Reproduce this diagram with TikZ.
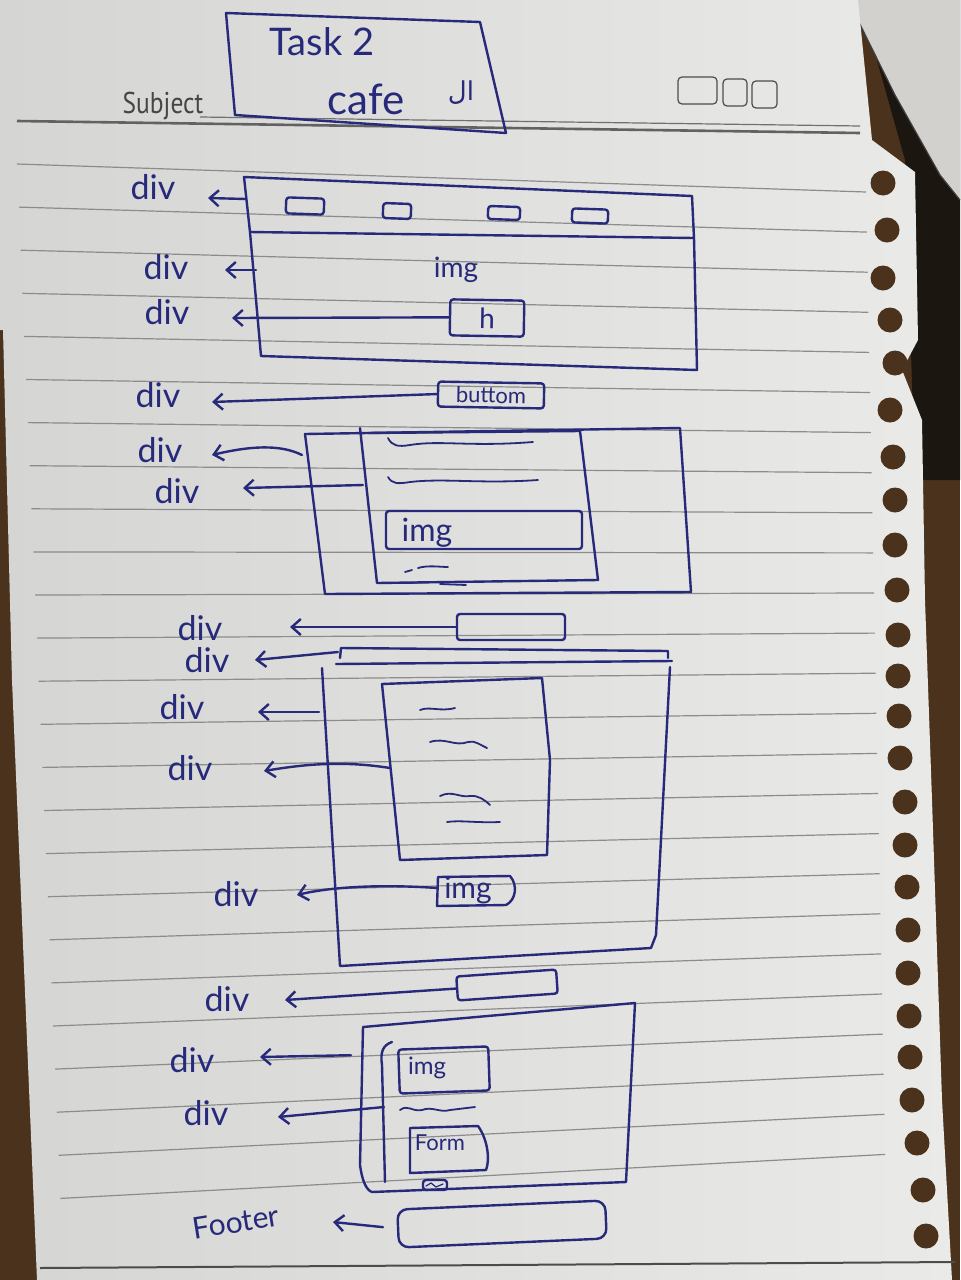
\documentclass[tikz,border=0pt]{standalone}
\usepackage{fontspec}
\setmainfont{Lato}
\newfontfamily\printfont{PT Sans}
\newfontfamily\arabicfont[Script=Arabic]{DejaVu Sans}
\TeXXeTstate=1
\usetikzlibrary{arrows.meta}

\definecolor{ink}{HTML}{27297A}
\definecolor{paperA}{HTML}{D5D5D3}
\definecolor{paperB}{HTML}{EAEAE8}
\definecolor{ruling}{HTML}{8C8C8C}
\definecolor{wood}{HTML}{4B321C}
\definecolor{gap}{HTML}{1C1611}
\definecolor{device}{HTML}{D3D1CD}

\tikzset{
  pen/.style={draw=ink, line width=1.2pt, line cap=round, line join=round},
  wave/.style={draw=ink, line width=0.9pt, line cap=round},
  arr/.style={pen, -{Straight Barb[length=4.5pt,width=8pt]}},
  hand/.style={text=ink, inner sep=0pt, font=\fontsize{17}{17}\selectfont},
  tag/.style={text=ink, inner sep=0pt},
  boxn/.style={pen, rectangle, rounded corners=1.5pt, inner sep=0pt},
  datebox/.style={draw=gray!60!black, line width=0.6pt, rounded corners=2pt},
}

\begin{document}
\begin{tikzpicture}[x=0.5pt, y=-0.5pt]
\useasboundingbox (0,0) rectangle (960,1280);

% table, shadow and the device in the corner
\fill[wood] (0,0) rectangle (960,1280);
\fill[gap] (860,0) -- (960,0) -- (960,480) -- (915,480) -- (905,160) -- cycle;
\fill[device] (848,0) -- (960,0) -- (960,200) -- (940,175) -- (895,95) -- cycle;
\draw[gray!50!black, line width=0.6pt] (848,0) -- (895,95) -- (940,175) -- (960,200);

% the notebook page
\shade[left color=paperA, right color=paperB]
  (0,0) -- (858,0) -- (872,140) -- (915,172) -- (918,340) -- (902,370)
  -- (922,420) -- (925,600) -- (932,800) -- (942,1100) -- (952,1280)
  -- (37,1280) -- (12,680) -- (3,330) -- (0,330) -- cycle;

% spiral holes
\foreach \y/\x in {183/883, 230/887, 278/883, 320/890, 363/895, 410/890,
  457/893, 500/895, 545/895, 590/897, 635/898, 676/898, 716/899, 758/900,
  802/905, 845/905, 887/907, 930/908, 973/908, 1016/909, 1057/910,
  1100/912, 1143/917, 1190/923, 1236/926}
  \fill[wood] (\x,\y) circle[radius=6.25pt];

% ruled lines
\foreach \k in {0,...,24} {
  \pgfmathsetmacro\yl{164+43.1*\k}
  \pgfmathsetmacro\yr{\yl+28-3*\k}
  \pgfmathsetmacro\xl{17+0.042*43.1*\k}
  \pgfmathsetmacro\xr{866+0.8*\k}
  \draw[ruling, line width=0.6pt] (\xl,\yl) -- (\xr,\yr);
}
\draw[gray!60!black, line width=1pt] (40,1268) -- (955,1262);

% header of the page
\draw[ruling!80!black, line width=0.6pt] (200,117) -- (860,126);
\draw[ruling!70!black, line width=1.3pt] (17,121) -- (860,133);
\node[text=gray!55!black, inner sep=0pt, font=\printfont\fontsize{15}{15}\selectfont]
  (subj) at (163,106) {\scalebox{0.85}[1]{Subject}};
\draw[datebox] (678,77) rectangle (717,104);
\draw[datebox] (723,79) rectangle (747,106);
\draw[datebox] (752,81) rectangle (777,108);

% title box
\draw[pen] (226,13) -- (480,22) -- (506,133) -- (235,115) -- cycle;
\node[tag, font=\fontsize{19}{19}\selectfont] (ttask) at (322,42) {Task 2};
\node[tag, font=\fontsize{21}{21}\selectfont] (tcafe) at (366,99) {cafe};
\node[tag, font=\arabicfont\fontsize{13}{13}\selectfont] (tal) at (461,93) {\beginR ال\endR};

% ---------- section 1: nav bar, hero, button ----------
\draw[pen] (244,177) -- (692,196) -- (694,238) -- (250,232) -- cycle;
\draw[pen] (250,232) -- (261,356) -- (697,370) -- (694,238);
\coordinate (navW) at (246,199);
\coordinate (heroW) at (256,270);

\node[boxn, minimum width=19pt, minimum height=8pt, rotate=-2] (nav1) at (305,206) {};
\node[boxn, minimum width=14pt, minimum height=7.5pt, rotate=-2] (nav2) at (397,211) {};
\node[boxn, minimum width=16pt, minimum height=6.5pt, rotate=-2] (nav3) at (504,213) {};
\node[boxn, minimum width=18pt, minimum height=7pt, rotate=-2] (nav4) at (590,216) {};

\node[tag, font=\fontsize{14}{14}\selectfont] (heroimg) at (456,270) {img};
\node[boxn, minimum width=37pt, minimum height=18pt, rotate=-1,
  font=\fontsize{14}{14}\selectfont, text=ink] (hbox) at (487,318) {h};
\node[boxn, minimum width=53pt, minimum height=12.5pt, rotate=-1,
  font=\fontsize{11}{11}\selectfont, text=ink] (btn) at (491,395) {buttom};

\node[hand] (l1) at (153,187) {div};
\node[hand] (l2) at (166,267) {div};
\node[hand] (l3) at (167,312) {div};
\node[hand] (l4) at (158,395) {div};
\coordinate (t1) at (208,198);
\coordinate (t2) at (225,270);
\coordinate (t3) at (232,318);
\coordinate (t4) at (212,402);
\draw[arr] (navW) -- (t1);
\draw[arr] (heroW) -- (t2);
\draw[arr] (hbox.west) -- (t3);
\draw[arr] (btn.west) -- (t4);

% ---------- section 2: card ----------
\draw[pen] (305,434) -- (680,428) -- (691,592) -- (325,594) -- cycle;
\draw[pen] (360,428) -- (377,583) -- (598,580) -- (580,431) -- (368,433);
\coordinate (out2W) at (302,455);
\coordinate (mid2W) at (363,485);
\draw[wave] (388,438) .. controls (392,446) and (398,447) .. (410,445)
  .. controls (440,440) and (470,447) .. (533,442);
\draw[wave] (388,477) .. controls (392,484) and (398,484) .. (410,482)
  .. controls (445,478) and (480,484) .. (538,480);
\node[boxn, minimum width=98pt, minimum height=19pt] (img2) at (484,530) {};
\node[tag, font=\fontsize{16}{16}\selectfont] (img2t) at (427,533) {img};
\draw[wave] (405,572) -- (412,570);
\draw[wave] (418,568) .. controls (428,565) and (440,567) .. (448,567);
\draw[wave] (410,583) -- (427,582);
\draw[wave] (440,584) -- (466,585);

\node[hand] (l5) at (160,450) {div};
\node[hand] (l6) at (177,491) {div};
\coordinate (t5) at (212,455);
\coordinate (t6) at (243,488);
\draw[arr] (out2W) .. controls (280,444) and (250,446) .. (t5);
\draw[arr] (mid2W) -- (t6);

% ---------- section 3: title bar, strip, text block ----------
\node[boxn, minimum width=54pt, minimum height=13pt] (box3) at (511,627) {};
\draw[pen] (340,658) -- (341,648) -- (668,651) -- (668,658);
\draw[pen] (336,664) -- (672,661);
\draw[pen] (322,668) -- (340,966) -- (651,948) -- (656,935) -- (670,667);
\coordinate (stripW) at (338,652);
\coordinate (big3W) at (319,712);

\draw[pen] (382,684) -- (542,678) -- (550,760) -- (547,855) -- (400,860) -- cycle;
\coordinate (inner3W) at (390,768);
\draw[wave] (420,710) .. controls (430,706) and (440,712) .. (455,708);
\draw[wave] (430,742) .. controls (445,737) and (455,747) .. (468,742)
  .. controls (475,740) and (480,745) .. (487,748);
\draw[wave] (440,796) .. controls (452,790) and (460,798) .. (470,796)
  .. controls (478,795) and (485,800) .. (490,805);
\draw[wave] (447,822) .. controls (460,820) and (475,823) .. (500,822);

\draw[pen] (438,877) -- (510,876) .. controls (518,885) and (516,900) .. (506,905)
  -- (437,906) -- cycle;
\node[tag, font=\fontsize{15}{15}\selectfont] (img3t) at (468,890) {img};
\coordinate (img3W) at (437,888);

\node[hand] (l7) at (200,628) {div};
\node[hand] (l8) at (207,660) {div};
\node[hand] (l9) at (182,707) {div};
\node[hand] (l10) at (190,768) {div};
\node[hand] (l11) at (236,894) {div};
\coordinate (t7) at (290,627);
\coordinate (t8) at (255,660);
\coordinate (t9) at (258,712);
\coordinate (t10) at (264,771);
\coordinate (t11) at (297,895);
\draw[arr] (box3.west) -- (t7);
\draw[arr] (stripW) -- (t8);
\draw[arr] (big3W) -- (t9);
\draw[arr] (inner3W) .. controls (340,760) and (300,765) .. (t10);
\draw[arr] (img3W) .. controls (380,884) and (330,887) .. (t11);

% ---------- section 4: contact block and footer ----------
\node[boxn, minimum width=50pt, minimum height=12pt, rotate=4] (box4) at (507,985) {};
\draw[pen] (363,1027) -- (360,1165) .. controls (362,1180) and (366,1190) .. (372,1192)
  -- (626,1182) -- (635,1003) -- cycle;
\coordinate (big4W) at (361,1055);
\draw[pen] (392,1042) .. controls (383,1045) and (380,1052) .. (382,1065) -- (385,1182);
\coordinate (braceW) at (384,1107);

\node[boxn, minimum width=45pt, minimum height=22pt, rotate=2] (img4) at (444,1070) {};
\node[tag, font=\fontsize{12}{12}\selectfont] (img4t) at (427,1068) {img};
\draw[wave] (400,1110) .. controls (408,1104) and (412,1112) .. (422,1110)
  .. controls (432,1106) and (440,1113) .. (450,1110) -- (475,1107);
\draw[pen] (410,1128) -- (478,1126) .. controls (488,1140) and (490,1160) .. (486,1170)
  -- (410,1173) -- cycle;
\node[tag, font=\fontsize{11}{11}\selectfont] (formt) at (440,1143) {Form};
\node[boxn, minimum width=12pt, minimum height=5pt] (sendbox) at (435,1185) {};
\draw[wave, line width=0.6pt] (426,1186) -- (431,1183) -- (436,1187) -- (443,1184);

\node[boxn, rounded corners=5pt, minimum width=104pt, minimum height=19pt, rotate=2.5]
  (footbox) at (502,1224) {};

\node[hand] (l12) at (227,999) {div};
\node[hand] (l13) at (192,1060) {div};
\node[hand] (l14) at (206,1113) {div};
\node[hand, font=\fontsize{15}{15}\selectfont, rotate=9] (lfoot) at (236,1222) {Footer};
\coordinate (t12) at (285,1000);
\coordinate (t13) at (260,1057);
\coordinate (t14) at (278,1117);
\coordinate (t15) at (333,1222);
\draw[arr] (box4.west) -- (t12);
\draw[arr, shorten <=5pt] (big4W) -- (t13);
\draw[arr] (braceW) -- (t14);
\draw[arr, shorten <=7pt] (footbox.west) -- (t15);
\end{tikzpicture}
\end{document}
